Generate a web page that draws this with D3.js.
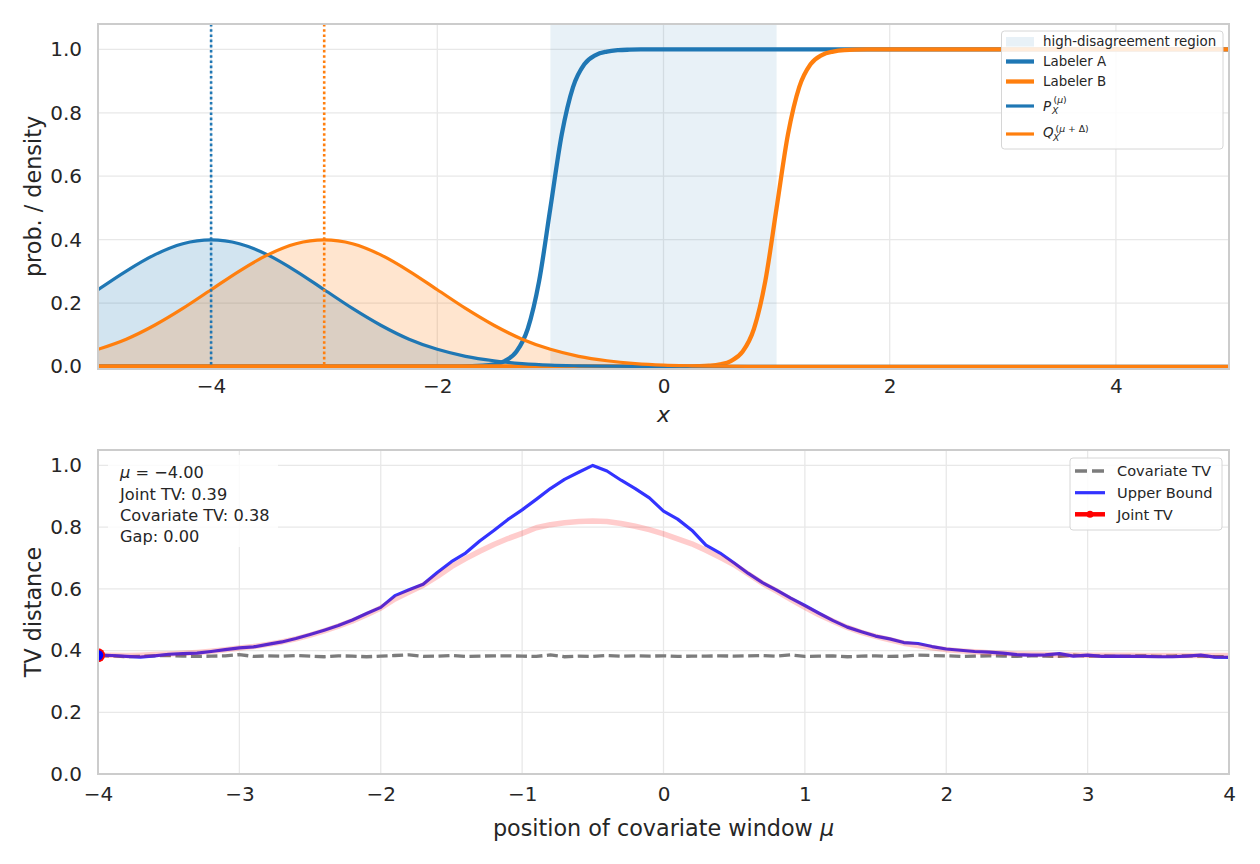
<!DOCTYPE html>
<html>
<head>
<meta charset="utf-8">
<script src="https://cdn.jsdelivr.net/npm/d3@7"></script>
<style>
  body { margin: 0; background: #fff; }
  text { font-family: "DejaVu Sans", sans-serif; fill: #262626; }
</style>
</head>
<body>
<svg id="chart" width="1260" height="864"></svg>
<script>
// ---------------- data ----------------

// top panel: covariate densities
const densityX = [-5, -4.75, -4.5, -4.25, -4, -3.75, -3.5, -3.25, -3, -2.75, -2.5, -2.25, -2, -1.75, -1.5, -1.25, -1, -0.75, -0.5, -0.25,
  0, 0.25, 0.5, 0.75, 1, 1.5, 2, 2.5, 3, 3.5, 4, 4.5, 5]
const densityP = [0.242, 0.301, 0.352, 0.387, 0.399, 0.387, 0.352, 0.301, 0.242, 0.183, 0.130, 0.086, 0.054, 0.032, 0.018, 0.009, 0.004, 0.002, 0.001, 0.0003,
  0, 0, 0, 0, 0, 0, 0, 0, 0, 0, 0, 0, 0]
const densityQ = [0.054, 0.086, 0.130, 0.183, 0.242, 0.301, 0.352, 0.387, 0.399, 0.387, 0.352, 0.301, 0.242, 0.183, 0.130, 0.086, 0.054, 0.032, 0.018, 0.009,
  0.004, 0.002, 0.001, 0.0003, 0, 0, 0, 0, 0, 0, 0, 0, 0]

// top panel: labeler probabilities
const labelerX = [-5, -4, -3, -2, -1.8, -1.6, -1.5, -1.4, -1.3, -1.2, -1.1, -1.0, -0.9, -0.8, -0.7, -0.6, -0.5, -0.4, -0.3, -0.2,
  0, 0.2, 0.3, 0.4, 0.5, 0.6, 0.7, 0.8, 0.9, 1.0, 1.1, 1.2, 1.3, 1.4, 1.5, 1.6, 1.8, 2, 3, 4, 5]
const labelerA = [0, 0, 0, 0, 0.0003, 0.0025, 0.0067, 0.018, 0.047, 0.119, 0.269, 0.5, 0.731, 0.881, 0.953, 0.982, 0.993, 0.9975, 0.999, 0.9997,
  1, 1, 1, 1, 1, 1, 1, 1, 1, 1, 1, 1, 1, 1, 1, 1, 1, 1, 1, 1, 1]
const labelerB = [0, 0, 0, 0, 0, 0, 0, 0, 0, 0, 0, 0, 0, 0, 0, 0, 0, 0, 0, 0,
  0, 0.0003, 0.001, 0.0025, 0.0067, 0.018, 0.047, 0.119, 0.269, 0.5, 0.731, 0.881, 0.953, 0.982, 0.993, 0.9975, 0.9997, 1, 1, 1, 1]

const regionBounds = [-1, 1]
const meanP = -4
const meanQ = -3

// bottom panel: TV distances against window position
const muValues = [-4.0, -3.9, -3.8, -3.7, -3.6, -3.5, -3.4, -3.3, -3.2, -3.1, -3.0, -2.9, -2.8, -2.7, -2.6, -2.5, -2.4, -2.3, -2.2, -2.1,
  -2.0, -1.9, -1.8, -1.7, -1.6, -1.5, -1.4, -1.3, -1.2, -1.1, -1.0, -0.9, -0.8, -0.7, -0.6, -0.5, -0.4, -0.3, -0.2, -0.1,
  0.0, 0.1, 0.2, 0.3, 0.4, 0.5, 0.6, 0.7, 0.8, 0.9, 1.0, 1.1, 1.2, 1.3, 1.4, 1.5, 1.6, 1.7, 1.8, 1.9,
  2.0, 2.1, 2.2, 2.3, 2.4, 2.5, 2.6, 2.7, 2.8, 2.9, 3.0, 3.1, 3.2, 3.3, 3.4, 3.5, 3.6, 3.7, 3.8, 3.9, 4.0]
const covariateTV = [0.384, 0.383, 0.380, 0.381, 0.383, 0.384, 0.382, 0.381, 0.382, 0.383, 0.387, 0.381, 0.383, 0.382, 0.384, 0.382, 0.380, 0.383, 0.382, 0.380,
  0.382, 0.384, 0.386, 0.381, 0.382, 0.384, 0.381, 0.382, 0.383, 0.383, 0.382, 0.381, 0.386, 0.380, 0.382, 0.381, 0.384, 0.382, 0.383, 0.382,
  0.383, 0.381, 0.382, 0.382, 0.383, 0.382, 0.383, 0.384, 0.382, 0.386, 0.381, 0.382, 0.383, 0.380, 0.382, 0.383, 0.381, 0.382, 0.385, 0.384,
  0.383, 0.381, 0.382, 0.383, 0.382, 0.381, 0.383, 0.382, 0.381, 0.385, 0.382, 0.383, 0.381, 0.382, 0.383, 0.381, 0.382, 0.383, 0.382, 0.380, 0.381]
const upperBound = [0.385, 0.384, 0.381, 0.379, 0.383, 0.388, 0.390, 0.392, 0.397, 0.403, 0.409, 0.412, 0.420, 0.428, 0.439, 0.452, 0.466, 0.481, 0.499, 0.520,
  0.540, 0.578, 0.597, 0.615, 0.653, 0.688, 0.716, 0.755, 0.789, 0.825, 0.856, 0.890, 0.925, 0.955, 0.978, 1.000, 0.982, 0.952, 0.925, 0.895,
  0.852, 0.826, 0.790, 0.742, 0.716, 0.684, 0.650, 0.620, 0.596, 0.570, 0.546, 0.521, 0.497, 0.476, 0.461, 0.447, 0.438, 0.426, 0.423, 0.413,
  0.405, 0.401, 0.397, 0.395, 0.392, 0.387, 0.385, 0.386, 0.390, 0.382, 0.385, 0.381, 0.382, 0.381, 0.381, 0.380, 0.380, 0.382, 0.385, 0.379, 0.378]
const jointTV = [0.385, 0.385, 0.384, 0.385, 0.387, 0.389, 0.391, 0.394, 0.398, 0.403, 0.408, 0.413, 0.420, 0.428, 0.438, 0.450, 0.464, 0.479, 0.496, 0.516,
  0.538, 0.567, 0.590, 0.612, 0.640, 0.672, 0.698, 0.722, 0.744, 0.763, 0.780, 0.798, 0.808, 0.814, 0.818, 0.820, 0.818, 0.812, 0.803, 0.792,
  0.778, 0.762, 0.746, 0.725, 0.702, 0.678, 0.648, 0.618, 0.593, 0.566, 0.540, 0.516, 0.495, 0.475, 0.459, 0.446, 0.435, 0.424, 0.416, 0.409,
  0.403, 0.399, 0.396, 0.393, 0.391, 0.389, 0.388, 0.387, 0.386, 0.386, 0.385, 0.385, 0.385, 0.385, 0.384, 0.384, 0.384, 0.384, 0.384, 0.384, 0.384]

const currentMu = -4.0
const currentJoint = 0.385
const infoLines = ["Joint TV: 0.39", "Covariate TV: 0.38", "Gap: 0.00"]

const topXTicks = [-4, -2, 0, 2, 4]
const bottomXTicks = [-4, -3, -2, -1, 0, 1, 2, 3, 4]
const yTicks = [0, 0.2, 0.4, 0.6, 0.8, 1.0]

// ---------------- setup ----------------
const blue = "#1f77b4"
const orange = "#ff7f0e"
const svg = d3.select("#chart")

const topBox = { left: 98, right: 1229, top: 24, bottom: 369 }
const botBox = { left: 98, right: 1229, top: 450, bottom: 774 }

const xTop = d3.scaleLinear().domain([-5, 5]).range([topBox.left, topBox.right])
const yTop = d3.scaleLinear().domain([-0.008, 1.08]).range([topBox.bottom, topBox.top])
const xBot = d3.scaleLinear().domain([-4, 4]).range([botBox.left, botBox.right])
const yBot = d3.scaleLinear().domain([0, 1.05]).range([botBox.bottom, botBox.top])

const defs = svg.append("defs")
function clip(id, b) {
  defs.append("clipPath").attr("id", id)
    .append("rect")
    .attr("x", b.left).attr("y", b.top)
    .attr("width", b.right - b.left).attr("height", b.bottom - b.top)
}
clip("clipTop", topBox)
clip("clipBot", botBox)

// grid + tick labels for one panel
function drawAxes(b, x, y, xTicks, pad) {
  const g = svg.append("g")
  g.selectAll(".gx").data(xTicks).join("line")
    .attr("x1", d => x(d)).attr("x2", d => x(d))
    .attr("y1", b.top).attr("y2", b.bottom)
    .attr("stroke", "#e8e8e8").attr("stroke-width", 1.3)
  g.selectAll(".gy").data(yTicks).join("line")
    .attr("x1", b.left).attr("x2", b.right)
    .attr("y1", d => y(d)).attr("y2", d => y(d))
    .attr("stroke", "#e8e8e8").attr("stroke-width", 1.3)

  const ax = svg.append("g")
    .attr("transform", `translate(0,${b.bottom})`)
    .call(d3.axisBottom(x).tickValues(xTicks).tickFormat(d3.format("d")).tickSize(0).tickPadding(pad))
  const ay = svg.append("g")
    .attr("transform", `translate(${b.left},0)`)
    .call(d3.axisLeft(y).tickValues(yTicks).tickFormat(d3.format(".1f")).tickSize(0).tickPadding(16))
  for (const a of [ax, ay]) {
    a.select(".domain").remove()
    a.selectAll("text").attr("font-size", 20).attr("fill", "#262626")
      .attr("font-family", "DejaVu Sans")
  }
  return g
}
function drawFrame(b) {
  svg.append("rect")
    .attr("x", b.left).attr("y", b.top)
    .attr("width", b.right - b.left).attr("height", b.bottom - b.top)
    .attr("fill", "none").attr("stroke", "#cccccc").attr("stroke-width", 2)
}

// ---------------- top panel ----------------
drawAxes(topBox, xTop, yTop, topXTicks, 10)
const gTop = svg.append("g").attr("clip-path", "url(#clipTop)")

gTop.append("rect")
  .attr("x", xTop(regionBounds[0])).attr("y", topBox.top)
  .attr("width", xTop(regionBounds[1]) - xTop(regionBounds[0]))
  .attr("height", topBox.bottom - topBox.top)
  .attr("fill", blue).attr("fill-opacity", 0.1)

const areaTop = d3.area().x(d => xTop(d[0])).y0(yTop(0)).y1(d => yTop(d[1])).curve(d3.curveMonotoneX)
const lineTop = d3.line().x(d => xTop(d[0])).y(d => yTop(d[1])).curve(d3.curveMonotoneX)
const pData = densityX.map((v, i) => [v, densityP[i]])
const qData = densityX.map((v, i) => [v, densityQ[i]])
const aData = labelerX.map((v, i) => [v, labelerA[i]])
const bData = labelerX.map((v, i) => [v, labelerB[i]])

gTop.append("path").attr("d", areaTop(pData)).attr("fill", blue).attr("fill-opacity", 0.2)
gTop.append("path").attr("d", areaTop(qData)).attr("fill", orange).attr("fill-opacity", 0.2)

gTop.append("path").attr("d", lineTop(aData)).attr("fill", "none").attr("stroke", blue).attr("stroke-width", 4.3)
gTop.append("path").attr("d", lineTop(bData)).attr("fill", "none").attr("stroke", orange).attr("stroke-width", 4.3)
gTop.append("path").attr("d", lineTop(pData)).attr("fill", "none").attr("stroke", blue).attr("stroke-width", 3.2)
gTop.append("path").attr("d", lineTop(qData)).attr("fill", "none").attr("stroke", orange).attr("stroke-width", 3.2)

// dotted markers at the means
gTop.selectAll(".vline").data([[meanP, blue], [meanQ, orange]]).join("line")
  .attr("x1", d => xTop(d[0])).attr("x2", d => xTop(d[0]))
  .attr("y1", topBox.top).attr("y2", yTop(0))
  .attr("stroke", d => d[1]).attr("stroke-width", 2.6)
  .attr("stroke-dasharray", "2.6,2.6")

drawFrame(topBox)

svg.append("text").attr("x", (topBox.left + topBox.right) / 2).attr("y", 422)
  .attr("text-anchor", "middle").attr("font-size", 22).attr("font-style", "italic").text("x")
svg.append("text").attr("transform", `translate(41,${(topBox.top + topBox.bottom) / 2}) rotate(-90)`)
  .attr("text-anchor", "middle").attr("font-size", 22.3).text("prob. / density")

// top legend
const lgTop = svg.append("g")
lgTop.append("rect").attr("x", 1001.5).attr("y", 31).attr("width", 221.5).attr("height", 118)
  .attr("rx", 3).attr("fill", "white").attr("fill-opacity", 0.85)
  .attr("stroke", "#d6d6d6").attr("stroke-width", 1)
lgTop.append("rect").attr("x", 1006).attr("y", 37).attr("width", 28).attr("height", 9.5)
  .attr("fill", blue).attr("fill-opacity", 0.1)
lgTop.append("text").attr("x", 1043).attr("y", 46).attr("font-size", 13.4).text("high-disagreement region")
const topItems = [
  { y: 61.5, color: blue, w: 4.3, label: "Labeler A" },
  { y: 81.5, color: orange, w: 4.3, label: "Labeler B" },
  { y: 106, color: blue, w: 3.2 },
  { y: 134, color: orange, w: 3.2 }
]
topItems.forEach(it => {
  lgTop.append("line").attr("x1", 1006).attr("x2", 1034).attr("y1", it.y).attr("y2", it.y)
    .attr("stroke", it.color).attr("stroke-width", it.w)
  if (it.label) lgTop.append("text").attr("x", 1043).attr("y", it.y + 4.9).attr("font-size", 13.4).text(it.label)
})
// P_X^(mu)
lgTop.append("text").attr("x", 1043).attr("y", 111).attr("font-size", 13.4).attr("font-style", "italic").text("P")
lgTop.append("text").attr("x", 1052).attr("y", 113.5).attr("font-size", 9.3).attr("font-style", "italic").text("X")
const pSup = lgTop.append("text").attr("x", 1053.5).attr("y", 103).attr("font-size", 9.3)
pSup.append("tspan").text("(")
pSup.append("tspan").attr("font-style", "italic").text("μ")
pSup.append("tspan").text(")")
// Q_X^(mu + Delta)
lgTop.append("text").attr("x", 1043).attr("y", 137).attr("font-size", 13.4).attr("font-style", "italic").text("Q")
lgTop.append("text").attr("x", 1053).attr("y", 141).attr("font-size", 9.3).attr("font-style", "italic").text("X")
const qSup = lgTop.append("text").attr("x", 1055.5).attr("y", 131.5).attr("font-size", 9.3)
qSup.append("tspan").text("(")
qSup.append("tspan").attr("font-style", "italic").text("μ")
qSup.append("tspan").text(" + Δ)")

// ---------------- bottom panel ----------------
drawAxes(botBox, xBot, yBot, bottomXTicks, 13)
const gBot = svg.append("g").attr("clip-path", "url(#clipBot)")
const lineBot = series => d3.line().x((d, i) => xBot(muValues[i])).y(d => yBot(d))(series)

gBot.append("path").attr("d", lineBot(covariateTV)).attr("fill", "none")
  .attr("stroke", "#7c7c7c").attr("stroke-width", 3.3).attr("stroke-dasharray", "11,4.5")
gBot.append("path").attr("d", lineBot(upperBound)).attr("fill", "none")
  .attr("stroke", "#3333ff").attr("stroke-width", 3.2).attr("stroke-linejoin", "round")
gBot.append("path").attr("d", lineBot(jointTV)).attr("fill", "none")
  .attr("stroke", "red").attr("stroke-opacity", 0.2).attr("stroke-width", 5.5).attr("stroke-linejoin", "round")
gBot.append("circle").attr("cx", xBot(currentMu)).attr("cy", yBot(currentJoint)).attr("r", 7).attr("fill", "red")
gBot.append("circle").attr("cx", xBot(currentMu)).attr("cy", yBot(currentJoint)).attr("r", 5.3).attr("fill", "blue")

drawFrame(botBox)

const xl = svg.append("text").attr("x", (botBox.left + botBox.right) / 2).attr("y", 836)
  .attr("text-anchor", "middle").attr("font-size", 22.3)
xl.append("tspan").text("position of covariate window ")
xl.append("tspan").attr("font-style", "italic").text("μ")
svg.append("text").attr("transform", `translate(41,${(botBox.top + botBox.bottom) / 2}) rotate(-90)`)
  .attr("text-anchor", "middle").attr("font-size", 22.3).text("TV distance")

// info box
svg.append("rect").attr("x", 108).attr("y", 455).attr("width", 170).attr("height", 92)
  .attr("rx", 4).attr("fill", "white").attr("fill-opacity", 0.8)
const mu0 = svg.append("text").attr("x", 120).attr("y", 478).attr("font-size", 16.2)
mu0.append("tspan").attr("font-style", "italic").text("μ")
mu0.append("tspan").text(" = \u2212" + Math.abs(currentMu).toFixed(2))
infoLines.forEach((t, i) => {
  svg.append("text").attr("x", 120).attr("y", 499.5 + i * 21.3).attr("font-size", 16.2).text(t)
})

// bottom legend
const lgBot = svg.append("g")
lgBot.append("rect").attr("x", 1070).attr("y", 458).attr("width", 152).attr("height", 72)
  .attr("rx", 3).attr("fill", "white").attr("fill-opacity", 0.85)
  .attr("stroke", "#d6d6d6").attr("stroke-width", 1)
lgBot.append("line").attr("x1", 1075).attr("x2", 1105).attr("y1", 471).attr("y2", 471)
  .attr("stroke", "#7c7c7c").attr("stroke-width", 3.3).attr("stroke-dasharray", "12,5")
lgBot.append("line").attr("x1", 1075).attr("x2", 1105).attr("y1", 492.7).attr("y2", 492.7)
  .attr("stroke", "#3333ff").attr("stroke-width", 3.2)
lgBot.append("line").attr("x1", 1075).attr("x2", 1105).attr("y1", 514.3).attr("y2", 514.3)
  .attr("stroke", "red").attr("stroke-width", 4.5)
lgBot.append("circle").attr("cx", 1090).attr("cy", 514.3).attr("r", 3.5).attr("fill", "red")
const botLabels = [["Covariate TV", 471], ["Upper Bound", 492.7], ["Joint TV", 514.3]]
botLabels.forEach(d => {
  lgBot.append("text").attr("x", 1117).attr("y", d[1] + 5.2).attr("font-size", 14.6).text(d[0])
})
</script>
</body>
</html>
